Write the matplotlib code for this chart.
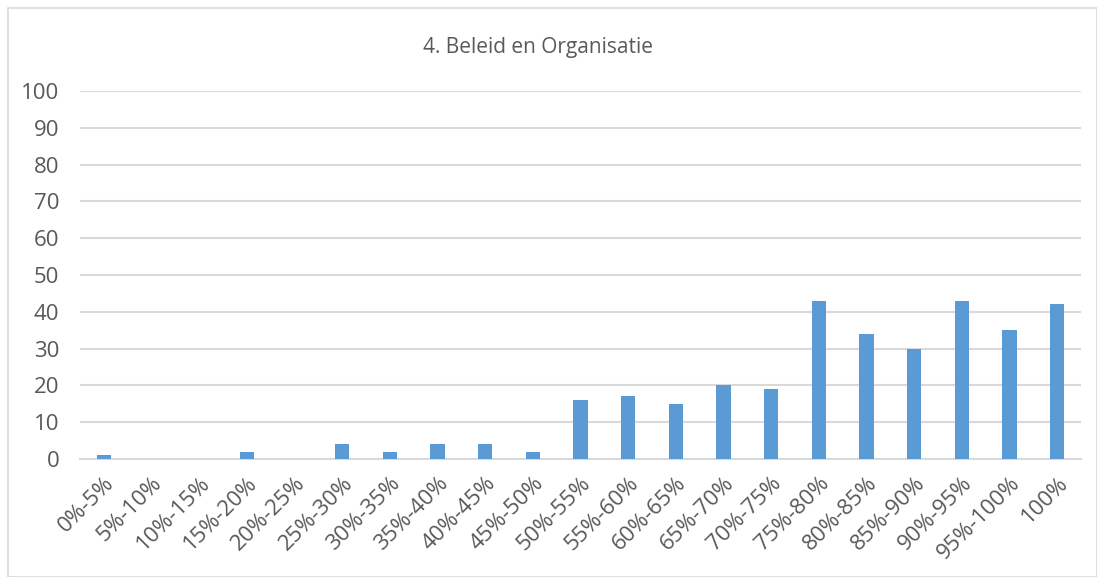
import numpy as np
from matplotlib import pyplot as plt
from matplotlib.patches import Rectangle

categories = ['0%-5%', '5%-10%', '10%-15%', '15%-20%', '20%-25%', '25%-30%',
              '30%-35%', '35%-40%', '40%-45%', '45%-50%', '50%-55%', '55%-60%',
              '60%-65%', '65%-70%', '70%-75%', '75%-80%', '80%-85%', '85%-90%',
              '90%-95%', '95%-100%', '100%']
counts = [1, 0, 0, 2, 0, 4, 2, 4, 4, 2, 16, 17, 15, 20, 19, 43, 34, 30, 43, 35, 42]
yticks = [0, 10, 20, 30, 40, 50, 60, 70, 80, 90, 100]

plt.rcParams['font.family'] = ['Open Sans', 'DejaVu Sans']
txt = '#595959'

fig = plt.figure(figsize=(10.97, 5.77), dpi=100)
fig.patches.append(Rectangle((8/1097, 0), 1 - 8/1097, 1 - 8/577, transform=fig.transFigure,
                             fill=False, edgecolor='#d9d9d9', linewidth=1.2))
ax = fig.add_axes([80/1097, 1 - 459/577, 1001/1097, 368/577])

x = np.arange(len(categories))
ax.bar(x, counts, width=0.3, color='#5b9bd5', zorder=3)
ax.set_xlim(-0.5, len(categories) - 0.5)
ax.set_ylim(0, 100)
ax.set_yticks(yticks)
ax.yaxis.grid(True, color='#d9d9d9', linewidth=1.5, zorder=0)
ax.set_xticks(x)
ax.set_xticklabels(categories, rotation=45, ha='right', rotation_mode='anchor',
                   fontsize=16, color=txt)
ax.tick_params(axis='y', labelsize=16, labelcolor=txt, length=0, pad=15)
ax.tick_params(axis='x', length=0, pad=10)
for s in ['top', 'right', 'left']:
    ax.spines[s].set_visible(False)
ax.spines['bottom'].set_color('#d9d9d9')
ax.spines['bottom'].set_linewidth(1.5)

fig.text(538/1097, 1 - 47/577, '4. Beleid en Organisatie', ha='center', va='center',
         fontsize=15, color=txt)

plt.savefig('out.png', dpi=100)
